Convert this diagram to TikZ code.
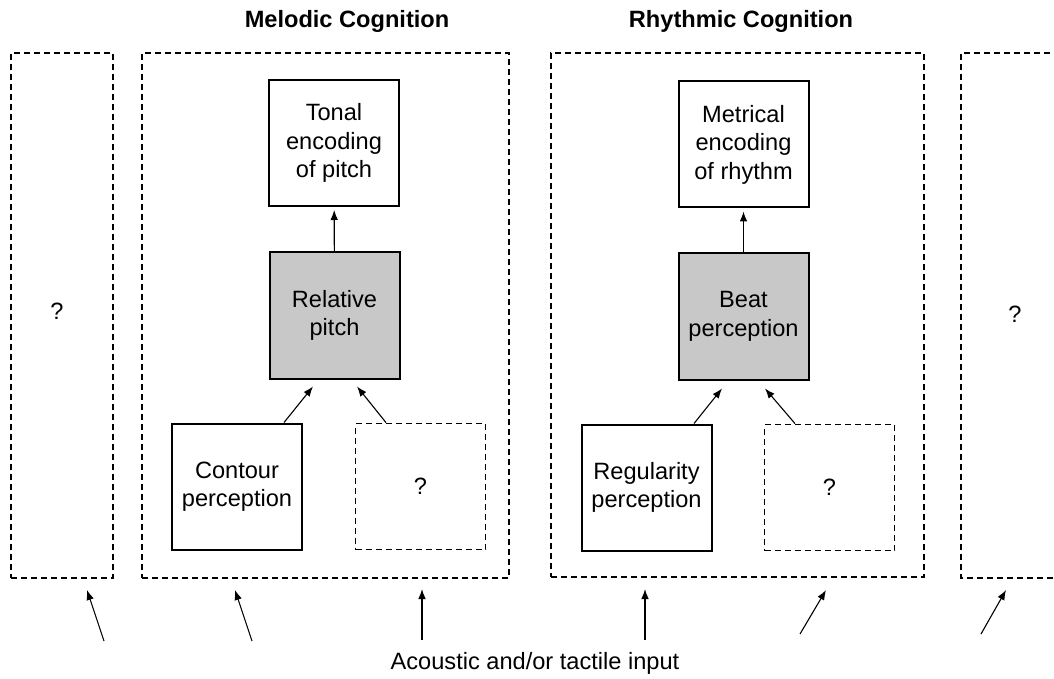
\documentclass[tikz,border=0pt]{standalone}
\usepackage{fontspec}
\setmainfont{Liberation Sans}
\usetikzlibrary{arrows.meta}
\definecolor{boxgray}{RGB}{200,200,200}
\begin{document}
\begin{tikzpicture}[x=0.5pt,y=-0.5pt,
    font=\fontsize{11.8}{14.2}\selectfont,
    stage/.style={draw,line width=1pt,minimum width=65pt,minimum height=63pt,
      inner sep=0pt,align=center},
    core/.style={stage,fill=boxgray},
    unknown/.style={stage,line width=0.9pt,dash pattern=on 3pt off 2pt},
    frame/.style={draw,line width=0.9pt,dash pattern=on 3pt off 2pt,inner sep=0pt},
    feed/.style={-{Latex[length=5pt,width=3.8pt]},line width=0.55pt}]
    \useasboundingbox (0,0) rectangle (1054,679);

    \node[font=\fontsize{11.8}{14.2}\bfseries] (melodic) at (347,21) {Melodic Cognition};
    \node[font=\fontsize{11.8}{14.2}\bfseries] (rhythmic) at (741,21) {Rhythmic Cognition};

    \node[frame,minimum width=51pt,minimum height=262.5pt] (leftframe) at (62,315.5) {};
    \node (leftq) at (57,311) {?};
    \node[frame,minimum width=183.5pt,minimum height=262.5pt] (melframe) at (325.5,315.5) {};
    \node[frame,minimum width=186.5pt,minimum height=262pt] (rhyframe) at (737.5,315) {};
    \draw[line width=0.9pt,dash pattern=on 3pt off 2pt] (1060,53) -- (961,53) -- (961,578) -- (1060,578);
    \node (rightq) at (1015,314) {?};

    \node[stage] (tonal) at (334,143) {Tonal\\encoding\\of pitch};
    \node[core] (relative) at (334.5,315.5) {Relative\\pitch};
    \node[stage] (contour) at (237,486.5) {Contour\\perception};
    \node[unknown] (melq) at (420.5,486.5) {?};

    \node[stage] (metrical) at (743.5,144.5) {Metrical\\encoding\\of rhythm};
    \node[core] (beat) at (743.5,316.5) {Beat\\perception};
    \node[stage] (regularity) at (646.5,487.5) {Regularity\\perception};
    \node[unknown] (rhyq) at (829.5,487.5) {?};

    \draw[feed,shorten >=1.5pt] (relative) -- (tonal);
    \draw[feed] ([xshift=23.5pt]contour.north) -- ([xshift=-10.75pt,yshift=-3.5pt]relative.south);
    \draw[feed] ([xshift=-17.25pt]melq.north) -- ([xshift=11.25pt,yshift=-3.5pt]relative.south);

    \draw[feed,shorten >=1.5pt] (beat) -- (metrical);
    \draw[feed] ([xshift=23.75pt]regularity.north) -- ([xshift=-10.75pt,yshift=-4pt]beat.south);
    \draw[feed] ([xshift=-17.25pt]rhyq.north) -- ([xshift=10.75pt,yshift=-4pt]beat.south);

    \node (input) at (535,663) {Acoustic and/or tactile input};
    \coordinate (in1) at (104,641); \coordinate (to1) at (87,590);
    \coordinate (in2) at (252,641); \coordinate (to2) at (235,590);
    \coordinate (in3) at (422,640); \coordinate (to3) at (422,589);
    \coordinate (in4) at (645,640); \coordinate (to4) at (645,589);
    \coordinate (in5) at (800,634); \coordinate (to5) at (826,590);
    \coordinate (in6) at (981,634); \coordinate (to6) at (1006,590);
    \foreach \i in {1,...,6}
      \draw[feed] (in\i) -- (to\i);
\end{tikzpicture}
\end{document}
